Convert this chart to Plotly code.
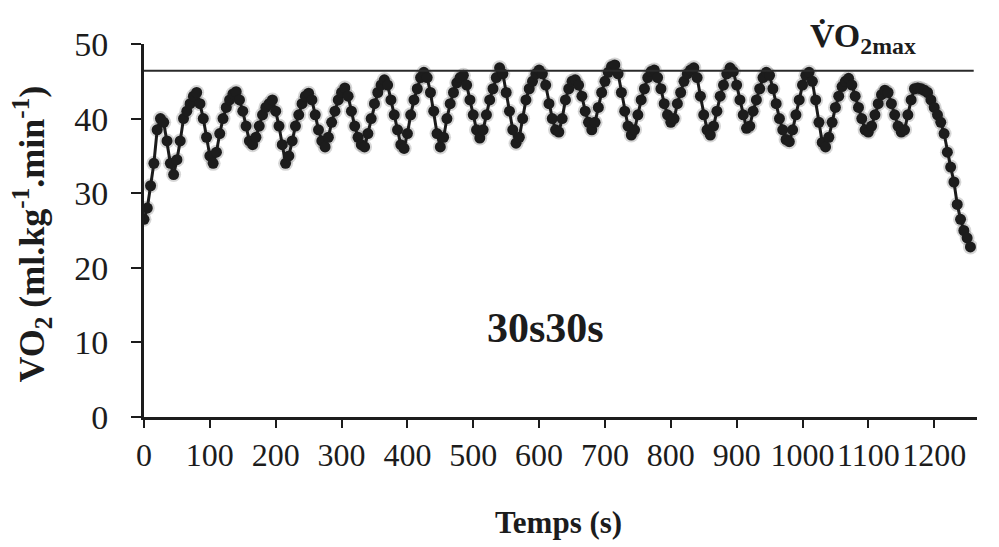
import plotly.graph_objects as go

time_s = list(range(0, 1260, 5))
vo2 = [
    26.5, 28.0, 31.0, 34.0, 38.5, 40.0, 39.5, 37.0, 34.0, 32.5, 34.5, 37.0,   # 0-55
    40.0, 41.0, 42.0, 43.0, 43.5, 42.0, 40.0, 37.5, 35.0, 34.0, 35.5, 38.0,   # 60-115
    40.0, 41.5, 42.5, 43.3, 43.6, 42.5, 41.0, 39.0, 37.0, 36.5, 37.5, 39.0,   # 120-175
    40.5, 41.5, 42.0, 42.5, 41.0, 39.0, 36.5, 34.0, 35.0, 37.0, 39.0, 40.5,   # 180-235
    42.0, 43.0, 43.4, 42.5, 40.5, 38.5, 37.0, 36.2, 37.5, 39.5, 41.0, 42.5,   # 240-295
    43.5, 44.1, 43.0, 41.0, 39.0, 37.5, 36.5, 36.2, 38.0, 40.0, 42.0, 43.5,   # 300-355
    44.5, 45.2, 44.5, 42.5, 40.5, 38.5, 36.5, 36.0, 38.0, 40.5, 42.5, 44.0,   # 360-415
    45.5, 46.2, 45.5, 43.5, 41.0, 38.0, 36.2, 37.5, 40.0, 42.0, 43.5, 44.8,   # 420-475
    45.5, 45.8, 44.5, 42.5, 40.5, 38.5, 37.4, 38.5, 40.5, 42.5, 44.0, 45.5,   # 480-535
    46.8, 46.0, 43.5, 41.0, 38.5, 36.7, 37.5, 40.0, 42.5, 44.0, 45.0, 46.0,   # 540-595
    46.5, 46.0, 44.5, 42.0, 40.0, 38.5, 38.2, 40.0, 42.5, 44.0, 45.0, 45.2,   # 600-655
    44.5, 43.0, 41.0, 39.5, 38.5, 39.5, 41.5, 43.5, 45.0, 46.2, 47.0, 47.2,   # 660-715
    46.0, 43.5, 41.0, 39.0, 37.8, 38.5, 40.5, 42.5, 44.0, 45.5, 46.3, 46.5,   # 720-775
    45.5, 44.0, 42.0, 40.5, 39.5, 40.0, 42.0, 43.5, 45.0, 46.0, 46.5, 46.8,   # 780-835
    45.5, 43.0, 40.5, 38.5, 37.8, 39.0, 41.0, 43.0, 44.5, 46.0, 46.8, 46.3,   # 840-895
    44.5, 42.5, 40.5, 38.7, 39.0, 41.0, 42.5, 44.0, 45.5, 46.2, 45.8, 44.0,   # 900-955
    42.0, 40.0, 38.5, 37.2, 36.9, 38.5, 40.5, 42.5, 44.5, 45.8, 46.2, 45.0,   # 960-1015
    42.5, 39.5, 36.8, 36.2, 37.5, 39.5, 41.5, 43.0, 44.3, 45.0, 45.4, 44.5,   # 1020-1075
    43.0, 41.5, 40.0, 38.5, 38.2, 39.0, 40.5, 42.0, 43.2, 43.8, 43.5, 42.0,   # 1080-1135
    40.5, 39.0, 38.2, 38.5, 40.5, 42.5, 44.0, 44.1, 44.0, 43.8, 43.5, 42.5,   # 1140-1195
    41.5, 40.5, 39.5, 38.0, 35.5, 33.5, 31.5, 28.5, 26.5, 25.0, 24.0, 22.8,   # 1200-1255
]

vo2max_value = 46.4
vo2max_line_x = [0, 1260]

x_ticks = [0, 100, 200, 300, 400, 500, 600, 700, 800, 900, 1000, 1100, 1200]
y_ticks = [0, 10, 20, 30, 40, 50]

SERIF = "Liberation Serif, Times New Roman, serif"
INK = "#1c1c1c"

fig = go.Figure()

# soft halo imitating the scan blur
fig.add_trace(go.Scatter(
    x=time_s, y=vo2, mode="markers",
    marker=dict(size=15, color="rgba(0,0,0,0.16)", line=dict(width=0)),
    hoverinfo="skip", showlegend=False,
))
fig.add_trace(go.Scatter(
    x=time_s, y=vo2, mode="lines+markers",
    line=dict(color=INK, width=3),
    marker=dict(size=11, color=INK, line=dict(width=0)),
    showlegend=False,
))

fig.add_trace(go.Scatter(
    x=vo2max_line_x, y=[vo2max_value, vo2max_value], mode="lines",
    line=dict(color="#2a2a2a", width=2), hoverinfo="skip", showlegend=False,
))

fig.update_layout(
    width=999, height=547,
    margin=dict(l=136, r=30, t=36, b=138),
    paper_bgcolor="white", plot_bgcolor="white",
    showlegend=False,
    xaxis=dict(
        range=[0, 1265], tickvals=x_ticks, ticktext=[str(v) for v in x_ticks],
        showgrid=False, zeroline=False,
        showline=True, linecolor=INK, linewidth=3,
        ticks="outside", ticklen=8, tickwidth=2, tickcolor=INK,
        tickfont=dict(family=SERIF, size=32, color=INK),
        ticklabelstandoff=0,
    ),
    yaxis=dict(
        range=[0, 50], tickvals=y_ticks, ticktext=[str(v) for v in y_ticks],
        showgrid=False, zeroline=False,
        showline=True, linecolor=INK, linewidth=3,
        ticks="outside", ticklen=10, tickwidth=2, tickcolor=INK,
        tickfont=dict(family=SERIF, size=34, color=INK),
        ticklabelstandoff=16,
    ),
    annotations=[
        dict(text="<b>VO<sub>2</sub> (ml.kg<sup>-1</sup>.min<sup>-1</sup>)</b>",
             xref="paper", yref="paper", x=-0.134, y=0.49,
             xanchor="center", yanchor="middle", textangle=-90, showarrow=False,
             font=dict(family=SERIF, size=36, color=INK)),
        dict(text="<b>Temps (s)</b>",
             xref="paper", yref="paper", x=0.497, y=-0.283,
             xanchor="center", yanchor="middle", showarrow=False,
             font=dict(family=SERIF, size=31, color=INK)),
        dict(text="<b>30s30s</b>",
             xref="x", yref="y", x=609, y=11.9,
             xanchor="center", yanchor="middle", showarrow=False,
             font=dict(family=SERIF, size=42, color=INK)),
        dict(text="<b>V\u0307O<sub>2max</sub></b>",
             xref="x", yref="paper", x=1008, y=0.955,
             xanchor="left", yanchor="bottom", showarrow=False,
             font=dict(family=SERIF, size=34, color=INK)),
    ],
)

fig.write_html("out.html")
